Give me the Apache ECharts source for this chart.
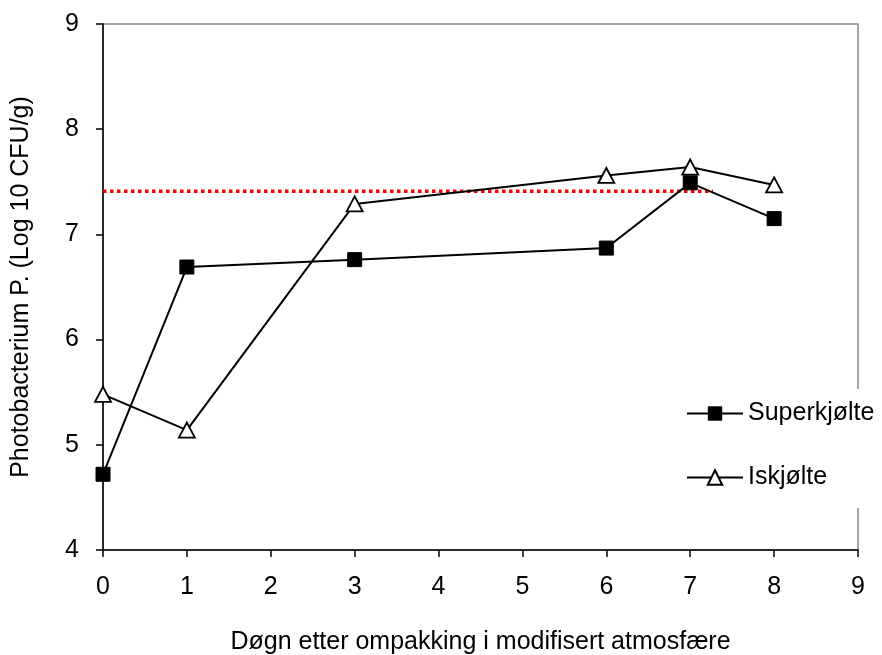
<!DOCTYPE html>
<html>
<head>
<meta charset="utf-8">
<script src="https://cdn.jsdelivr.net/npm/echarts@6/dist/echarts.min.js"></script>
<style>
  html, body { margin: 0; padding: 0; background: #fff; }
  #chart { width: 882px; height: 655px; }
</style>
</head>
<body>
<div id="chart"></div>
<script>
// Days after packing in modified atmosphere
const days = [0, 1, 3, 6, 7, 8];
// Log10 CFU/g
const superkjolte = [4.72, 6.69, 6.76, 6.87, 7.49, 7.15];
const iskjolte = [5.48, 5.14, 7.29, 7.56, 7.64, 7.47];
// Reference level (dotted red)
const limitLevel = 7.41;
const limitSpan = [0, 7.27];

const xTicks = [0, 1, 2, 3, 4, 5, 6, 7, 8, 9];
const yTicks = [4, 5, 6, 7, 8, 9];

const font = 'Liberation Sans, Arial, sans-serif';
const fs = 25;
const chart = echarts.init(document.getElementById('chart'));

chart.setOption({
  animation: false,
  backgroundColor: '#fff',
  grid: {
    left: 103, top: 24, right: 24, bottom: 105,
    outerBoundsMode: 'none',
    show: true, borderColor: '#888', borderWidth: 1.5, backgroundColor: '#fff'
  },
  xAxis: {
    type: 'value',
    min: xTicks[0], max: xTicks[xTicks.length - 1], interval: 1,
    name: 'Døgn etter ompakking i modifisert atmosfære',
    nameLocation: 'middle', nameGap: 80,
    nameTextStyle: { fontFamily: font, fontSize: fs, color: '#000' },
    axisLine: { lineStyle: { color: '#000', width: 1.5 } },
    axisTick: { show: true, length: 7, inside: false, lineStyle: { color: '#000', width: 1.5 } },
    axisLabel: { fontFamily: font, fontSize: fs, color: '#000', margin: 25 },
    splitLine: { show: false }
  },
  yAxis: {
    type: 'value',
    min: yTicks[0], max: yTicks[yTicks.length - 1], interval: 1,
    name: 'Photobacterium P. (Log 10 CFU/g)',
    nameLocation: 'middle', nameGap: 69, nameRotate: 90,
    nameTextStyle: { fontFamily: font, fontSize: fs, color: '#000' },
    axisLine: { show: true, lineStyle: { color: '#000', width: 1.5 } },
    axisTick: { show: true, length: 7, inside: false, lineStyle: { color: '#000', width: 1.5 } },
    axisLabel: { fontFamily: font, fontSize: fs, color: '#000', margin: 24 },
    splitLine: { show: false }
  },
  legend: {
    orient: 'vertical',
    left: 680, top: 389,
    padding: [12, 6, 18, 6],
    backgroundColor: '#fff',
    itemWidth: 56, itemHeight: 18, itemGap: 39,
    textStyle: { fontFamily: font, fontSize: fs, color: '#000', padding: [0, 0, 0, 0] },
    data: ['Superkjølte', 'Iskjølte']
  },
  series: [
    {
      name: 'Limit',
      type: 'line',
      data: limitSpan.map(x => [x, limitLevel]),
      symbol: 'none',
      lineStyle: { color: '#ff0000', width: 3.5, type: [3.5, 3.5] },
      z: 1
    },
    {
      name: 'Superkjølte',
      type: 'line',
      data: days.map((d, i) => [d, superkjolte[i]]),
      symbol: 'rect', symbolSize: 14,
      itemStyle: { color: '#000', borderColor: '#000' },
      lineStyle: { color: '#000', width: 2 },
      z: 3
    },
    {
      name: 'Iskjølte',
      type: 'line',
      data: days.map((d, i) => [d, iskjolte[i]]),
      symbol: 'triangle', symbolSize: [16, 15],
      itemStyle: { color: '#fff', borderColor: '#000', borderWidth: 1.8 },
      lineStyle: { color: '#000', width: 2 },
      z: 4
    }
  ]
});
</script>
</body>
</html>
